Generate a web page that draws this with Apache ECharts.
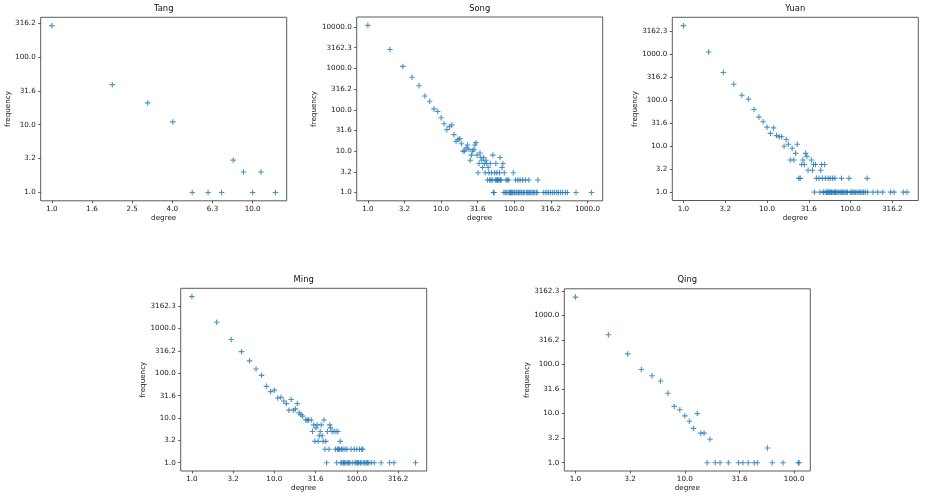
<!DOCTYPE html>
<html><head><meta charset="utf-8">
<script src="https://cdn.jsdelivr.net/npm/echarts@6/dist/echarts.min.js"></script>
<style>html,body{margin:0;padding:0;background:#fff}#c{width:925px;height:499px}</style>
</head><body><div id="c"></div>
<script>
// ---- data: degree -> frequency ----
const tangDegree = [1,2,3,4,5,6,7,8,9,10,11,13];
const tangFreq   = [290,39,21,11,1,1,1,3,2,1,2,1];

const songDegree = [1,2,3,4,5,6,7,8,9,10,11,12,13,14,15,16,17,18,19,20,21,22,23,24,25,26,27,28,29,30,
  31,32,33,34,35,36,37,38,39,40,41,42,43,44,45,46,47,48,49,50,51,52,53,54,55,56,57,58,59,60,62,63,64,65,66,68,70,
  72,73,75,77,78,80,82,84,86,88,90,92,95,97,99,102,104,106,109,112,114,117,120,123,127,130,133,137,142,146,150,155,158,162,168,175,182,190,200,206,210,
  249,265,280,295,315,335,355,380,400,430,460,500,531,697,1136];
const songFreq   = [11000,2870,1120,610,380,215,160,105,91,64,46,33,39,43,25,17,19,20,15,10,10,12,14,11,6,8,10,11,14,16,
  8,3,5,9,7,6,4,7,5,3,6,5,2,4,3,2,5,2,3,2,8,1,1,3,2,5,2,3,2,2,2,3,7,2,2,4,5,
  1,3,1,2,1,2,1,2,1,1,1,1,1,3,1,1,2,1,1,2,1,1,2,1,1,2,1,1,2,1,1,1,2,1,1,1,1,1,1,1,2,
  1,1,1,1,1,1,1,1,1,1,1,1,1,1,1];

const yuanDegree = [1,2,3,4,5,6,7,8,9,10,11,12,13,14,15,16,17,18,19,20,21,22,23,24,25,26,27,28,29,30,31,34,35,36,37,38,39,
  42,43,44,45,46,47,48,49,50,51,52,53,54,55,56,57,58,59,60,61,62,64,65,66,67,69,72,75,77,78,80,83,86,89,92,96,99,
  103,107,110,115,120,126,131,137,143,150,158,160,186,212,243,302,332,429,476];
const yuanFreq   = [4200,1120,400,222,128,106,63,43,34,26,19,25,17,16,16,10,14,11,5,9,5,7,11,2,2,4,5,4,7,6,3,5,3,4,1,4,2,
  2,1,3,4,2,1,1,4,2,1,1,1,2,1,1,2,1,1,1,2,1,1,2,1,1,1,1,1,1,2,1,1,1,1,1,2,1,
  1,1,1,1,1,1,1,1,1,1,2,1,1,1,1,1,1,1,1];

const mingDegree = [1,2,3,4,5,6,7,8,9,10,11,12,13,14,15,16,17,18,19,20,21,22,24,25,26,28,29,30,31,32,33,34,35,36,37,38,39,40,
  41,42,43,44,46,47,48,50,53,55,56,57,58,59,60,62,63,64,65,66,68,69,71,72,74,76,78,80,82,85,88,93,95,98,100,102,105,108,
  110,113,115,118,120,125,130,135,140,150,163,197,250,282,515];
const mingFreq   = [5200,1390,570,305,190,125,90,51,39,42,28,29,24,21,15,26,15,16,21,13,12,11,9,9,9,9,5,7,3,6,7,3,4,5,7,4,3,9,
  2,3,1,5,2,7,6,5,5,2,5,1,2,5,2,2,3,1,2,1,2,1,1,2,1,2,1,1,1,2,1,2,1,1,2,1,1,2,
  1,1,2,2,1,1,1,1,1,1,1,1,1,1,1];

const qingDegree = [1,2,3,4,5,6,7,8,9,10,11,12,13,14,15,16,17,19,21,25,31,34,38,43,46,57,63,79,109,111];
const qingFreq   = [2355,404,164,79,59,46,26,14,12,9,7,5,10,4,4,1,3,1,1,1,1,1,1,1,1,2,1,1,1,1];

const titles = ['Tang','Song','Yuan','Ming','Qing'];
const degrees = [tangDegree, songDegree, yuanDegree, mingDegree, qingDegree];
const freqs = [tangFreq, songFreq, yuanFreq, mingFreq, qingFreq];

// ---- layout ----
const layout = [
  {left:40.7,  top:17.3,  w:246, h:183.5, xStep:0.2, yStep:0.5, yGap:28},
  {left:356.7, top:17.0,  w:246, h:183.8, xStep:0.5, yStep:0.5, yGap:37},
  {left:672.3, top:17.3,  w:246, h:183.2, xStep:0.5, yStep:0.5, yGap:31.5},
  {left:180.7, top:288.3, w:246, h:182.7, xStep:0.5, yStep:0.5, yGap:31.7},
  {left:564.3, top:288.8, w:246, h:182.2, xStep:0.5, yStep:0.5, yGap:31.5}
];

const FONT = 'DejaVu Sans';
const COLOR = '#1f77b4';
const PLUS = 'path://M4,0H6V4H10V6H6V10H4V6H0V4H4Z';

function ticks(min, max, step){
  const out = [];
  for (let k = Math.ceil(min/step - 1e-9); k*step <= max + 1e-9; k++) out.push(Math.round(k*step*1e6)/1e6);
  return out;
}
const fmt = v => Math.pow(10, v).toFixed(1);

const grid = [], xAxis = [], yAxis = [], series = [], title = [];
layout.forEach((L, i) => {
  const lx = degrees[i].map(d => Math.log10(d));
  const ly = freqs[i].map(f => Math.log10(f));
  const xmn = Math.min(...lx), xmx = Math.max(...lx);
  const ymn = Math.min(...ly), ymx = Math.max(...ly);
  const xmin = xmn - 0.05*(xmx-xmn), xmax = xmx + 0.05*(xmx-xmn);
  const ymin = ymn - 0.05*(ymx-ymn), ymax = ymx + 0.05*(ymx-ymn);
  const xt = ticks(xmin, xmax, L.xStep), yt = ticks(ymin, ymax, L.yStep);

  grid.push({left:L.left, top:L.top, width:L.w, height:L.h, show:true,
    borderColor:'#5a5a5a', borderWidth:1, backgroundColor:'transparent', containLabel:false});
  const common = {
    type:'value', gridIndex:i, scale:true,
    axisLine:{show:false, onZero:false}, splitLine:{show:false},
    nameLocation:'middle',
    nameTextStyle:{fontSize:7.2, color:'#1a1a1a', fontFamily:FONT}
  };
  xAxis.push(Object.assign({}, common, {
    position:'bottom',
    min:xmin, max:xmax, name:'degree', nameGap:14,
    axisTick:{show:true, length:2.5, lineStyle:{color:'#333', width:0.8}, customValues:xt},
    axisLabel:{customValues:xt, formatter:fmt, fontSize:7.2, color:'#1a1a1a', fontFamily:FONT, margin:5}
  }));
  yAxis.push(Object.assign({}, common, {
    position:'left',
    min:ymin, max:ymax, name:'frequency', nameGap:L.yGap,
    axisTick:{show:true, length:2.5, lineStyle:{color:'#333', width:0.8}, customValues:yt},
    axisLabel:{customValues:yt, formatter:fmt, fontSize:7.2, color:'#1a1a1a', fontFamily:FONT, margin:5}
  }));
  series.push({
    type:'scatter', xAxisIndex:i, yAxisIndex:i,
    symbol:PLUS, symbolSize:5.5,
    itemStyle:{color:COLOR},
    data: lx.map((x, k) => [x, ly[k]]),
    silent:true
  });
  title.push({text:titles[i], left:L.left + L.w/2, top:L.top - 12.5, textAlign:'center', padding:0,
    textStyle:{fontSize:8.4, fontWeight:'normal', color:'#111', fontFamily:FONT}});
});

const chart = echarts.init(document.getElementById('c'), null, {renderer:'canvas'});
chart.setOption({animation:false, backgroundColor:'#fff', title, grid, xAxis, yAxis, series});
</script>
</body></html>
